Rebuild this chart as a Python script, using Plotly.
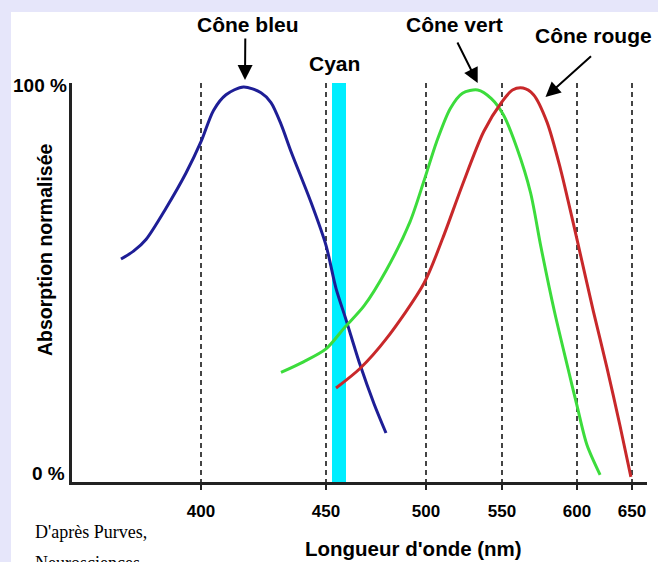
import numpy as np
import plotly.graph_objects as go

# ---- data (wavelength in nm, normalised absorption in %) ----
TICK_NM = [400, 450, 500, 550, 600, 650]
TICK_LABELS = ["400", "450", "500", "550", "600", "650"]
# the original axis is not linear: relative spacing of the ticks
TICK_POS = [0, 125, 225, 301, 376, 431]

BLUE_NM = [368, 373, 378, 386, 394, 400, 405, 410, 417, 424, 428, 432, 436, 444, 450, 455, 460, 467, 474, 480]
BLUE_ABS = [56, 58, 61, 69, 78, 86, 94, 98, 100, 98.5, 96, 90.5, 83.5, 70.5, 59.5, 48.5, 40.5, 29, 19, 11.5]

GREEN_NM = [432, 441, 450, 459, 469, 480, 492, 499, 507, 516, 524, 534, 543, 551, 560, 569, 576, 585, 594, 600, 609, 621]
GREEN_ABS = [27, 29.7, 33, 38.3, 44, 53, 65.5, 76, 86, 94.5, 98.4, 99.2, 97, 92.8, 84.3, 73, 59, 42.5, 28, 18.5, 8.5, 0.8]

RED_NM = [455, 467, 480, 499, 511, 524, 538, 550, 557, 564, 571, 580, 589, 594, 600, 615, 627, 639, 649]
RED_ABS = [23, 28, 35.5, 49.8, 61.3, 75, 88.6, 96.2, 99.2, 99.7, 98, 91, 79, 71, 61, 42.5, 28.5, 13.5, 0.3]

CYAN_NM = [453, 460]

CONE_LABELS = ["Cône bleu", "Cône vert", "Cône rouge"]
CONE_PEAK_NM = [417.6, 534, 579]


def pos(nm):
    nm = np.atleast_1d(np.asarray(nm, dtype=float))
    out = np.interp(nm, TICK_NM, TICK_POS)
    slope = (TICK_POS[1] - TICK_POS[0]) / (TICK_NM[1] - TICK_NM[0])
    lo = nm < TICK_NM[0]
    out[lo] = TICK_POS[0] + (nm[lo] - TICK_NM[0]) * slope
    return out


W, H = 658, 562
L, R, T, B = 72, 11, 83, 80
PW, PH = W - L - R, H - T - B


def px(x):
    return (x - L) / PW


def py(y):
    return (H - B - y) / PH


FONT = "Liberation Sans, Arial, sans-serif"

fig = go.Figure()
for nm, ab, col in [(BLUE_NM, BLUE_ABS, "#1E1E96"),
                    (GREEN_NM, GREEN_ABS, "#3CDC3C"),
                    (RED_NM, RED_ABS, "#C8282A")]:
    fig.add_trace(go.Scatter(x=pos(nm), y=ab, mode="lines",
                             line=dict(color=col, width=3, shape="spline", smoothing=0.8),
                             hoverinfo="skip", showlegend=False))

cx = pos(CYAN_NM)
shapes = [
    dict(type="rect", xref="paper", yref="paper", x0=px(11), x1=px(W + 5), y0=py(H + 5), y1=py(12),
         fillcolor="white", line=dict(width=0), layer="below"),
    dict(type="rect", xref="x", yref="paper", x0=cx[0], x1=cx[1], y0=0, y1=1,
         fillcolor="#00EEFF", line=dict(width=0), layer="between"),
]

ann = []
bold = dict(family=FONT, size=21, color="black", weight="bold")
for txt, x, y in [(CONE_LABELS[0], 248, 25), (CONE_LABELS[1], 454, 25), (CONE_LABELS[2], 593, 35), ("Cyan", 334, 63)]:
    ann.append(dict(text=txt, xref="paper", yref="paper", x=px(x), y=py(y),
                    xanchor="center", yanchor="middle", showarrow=False, font=bold))
# arrows pointing to the peaks (head height given in pixels of the page)
for nm, head_y, ax, ay in [(CONE_PEAK_NM[0], 80, 0.3, -43),
                           (CONE_PEAK_NM[1], 83, -21, -42),
                           (CONE_PEAK_NM[2], 97, 47, -42)]:
    ann.append(dict(text="", x=float(pos(nm)[0]), y=py(head_y), xref="x", yref="paper", ax=ax, ay=ay,
                    showarrow=True, arrowhead=2, arrowsize=1.5, arrowwidth=2, arrowcolor="black"))
# y labels
ylab_font = dict(family=FONT, size=19, color="black", weight="bold")
ann.append(dict(text="100 %", xref="paper", yref="paper", x=px(69), y=py(85), xanchor="right",
                yanchor="middle", showarrow=False, font=ylab_font))
ann.append(dict(text="0 %", xref="paper", yref="paper", x=px(67), y=py(473), xanchor="right",
                yanchor="middle", showarrow=False, font=ylab_font))
ann.append(dict(text="Absorption normalisée", xref="paper", yref="paper", x=px(45), y=py(250),
                xanchor="center", yanchor="middle", textangle=-90, showarrow=False,
                font=dict(family=FONT, size=19.5, color="black", weight="bold")))
ann.append(dict(text="Longueur d'onde (nm)", xref="paper", yref="paper", x=px(413), y=py(548),
                xanchor="center", yanchor="middle", showarrow=False,
                font=dict(family=FONT, size=20.5, color="black", weight="bold")))
serif = dict(family="Liberation Serif, Times New Roman, serif", size=18, color="black")
ann.append(dict(text="D'après Purves,", xref="paper", yref="paper", x=px(33), y=py(532),
                xanchor="left", yanchor="middle", showarrow=False, font=serif))
ann.append(dict(text="Neurosciences", xref="paper", yref="paper", x=px(33), y=py(563),
                xanchor="left", yanchor="middle", showarrow=False, font=serif))

fig.update_layout(
    width=W, height=H,
    margin=dict(l=L, r=R, t=T, b=B, pad=0),
    paper_bgcolor="#E6E6FA",
    plot_bgcolor="white",
    shapes=shapes,
    annotations=ann,
    xaxis=dict(range=[-129, 446], tickvals=list(pos(TICK_NM)), ticktext=TICK_LABELS,
               showgrid=True, gridcolor="#444444", gridwidth=1.5, griddash="5px,4px",
               showline=True, linecolor="#222222", linewidth=3, zeroline=False,
               ticks="outside", ticklen=5, tickwidth=2, tickcolor="#222222",
               ticklabelstandoff=7,
               tickfont=dict(family=FONT, size=17, color="black", weight="bold"), fixedrange=True),
    yaxis=dict(range=[-1.02, 101.0], showgrid=False, zeroline=False, showline=True,
               linecolor="#222222", linewidth=3, showticklabels=False, ticks="", fixedrange=True),
)

fig.write_html("out.html", config={"displayModeBar": False},
               post_script="document.body.style.margin='0px';document.body.style.overflow='hidden';")
